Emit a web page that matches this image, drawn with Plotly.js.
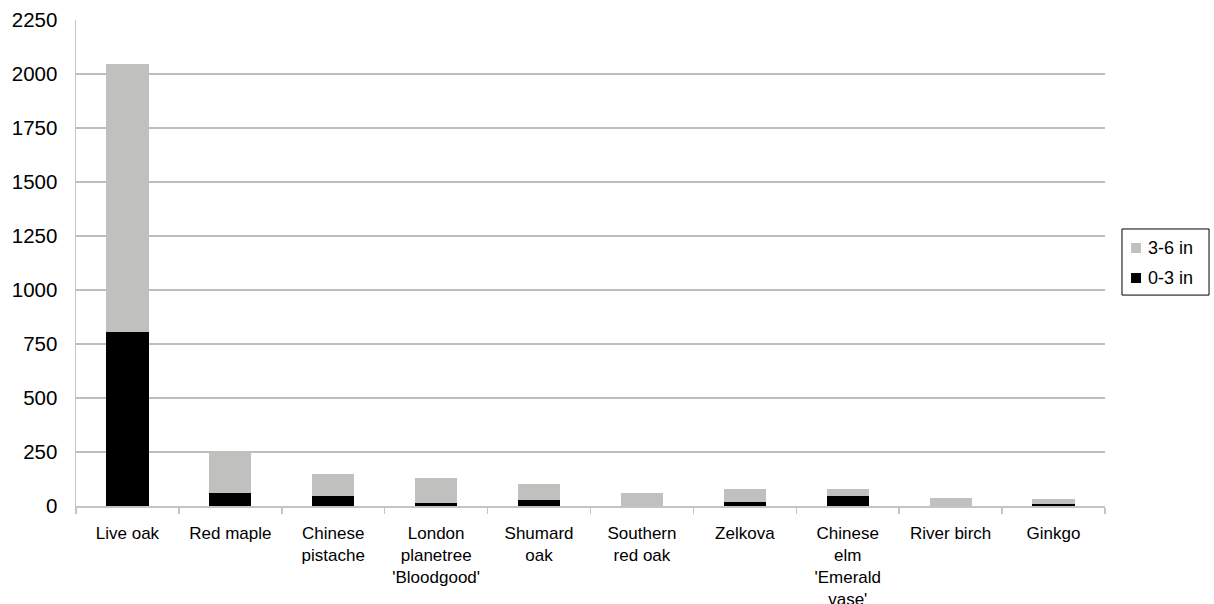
<!DOCTYPE html>
<html>
<head>
<meta charset="utf-8">
<script src="https://cdn.plot.ly/plotly-3.0.1.min.js"></script>
<style>
  html, body { margin: 0; padding: 0; background: #fff; }
  #chart { width: 1214px; height: 604px; }
</style>
</head>
<body>
<div id="chart"></div>
<script>
// Tree species (wrapped for the category axis)
const species = [
  "Live oak",
  "Red maple",
  "Chinese<br>pistache",
  "London<br>planetree<br>'Bloodgood'",
  "Shumard<br>oak",
  "Southern<br>red oak",
  "Zelkova",
  "Chinese<br>elm<br>'Emerald<br>vase'",
  "River birch",
  "Ginkgo"
];

// Counts by trunk diameter class
const small_0_3 = [805, 58, 45, 15, 30, 0, 20, 46, 2, 8];
const mid_3_6 = [1240, 192, 102, 113, 73, 62, 59, 33, 36, 26];

const seriesNames = ["0-3 in", "3-6 in"];
const seriesColors = ["#000000", "#c0c0bf"];

const yTicks = [0, 250, 500, 750, 1000, 1250, 1500, 1750, 2000, 2250];

const FONT = "Arial, 'Liberation Sans', Helvetica, sans-serif";

const traces = [
  {
    type: "bar",
    name: seriesNames[0],
    x: species,
    y: small_0_3,
    marker: { color: seriesColors[0], line: { width: 0 } },
    showlegend: false,
    hoverinfo: "x+y+name"
  },
  {
    type: "bar",
    name: seriesNames[1],
    x: species,
    y: mid_3_6,
    marker: { color: seriesColors[1], line: { width: 0 } },
    showlegend: false,
    hoverinfo: "x+y+name"
  }
];

// Legend box drawn in paper coordinates, to the right of the plot area
const legendBox = { x0: 1.0165, x1: 1.1011, y0: 0.434, y1: 0.570 };
const legendRows = [
  { idx: 1, y: 0.5309 },
  { idx: 0, y: 0.4691 }
];
const sq = { x0: 1.0253, x1: 1.0350, h: 0.0206 };

const shapes = [
  {
    type: "rect", xref: "paper", yref: "paper",
    x0: legendBox.x0, x1: legendBox.x1, y0: legendBox.y0, y1: legendBox.y1,
    line: { color: "#000", width: 1 }, fillcolor: "rgba(0,0,0,0)"
  }
];
const annotations = [];
legendRows.forEach(r => {
  shapes.push({
    type: "rect", xref: "paper", yref: "paper",
    x0: sq.x0, x1: sq.x1, y0: r.y - sq.h / 2, y1: r.y + sq.h / 2,
    line: { width: 0 }, fillcolor: seriesColors[r.idx]
  });
  annotations.push({
    xref: "paper", yref: "paper", x: 1.0395, y: r.y,
    xanchor: "left", yanchor: "middle", showarrow: false,
    text: seriesNames[r.idx],
    font: { family: FONT, size: 18, color: "#000" }
  });
});

const layout = {
  width: 1214,
  height: 604,
  margin: { l: 76, r: 109, t: 20, b: 98 },
  paper_bgcolor: "#fff",
  plot_bgcolor: "#fff",
  barmode: "stack",
  bargap: 0.59,
  showlegend: false,
  font: { family: FONT, color: "#000" },
  xaxis: {
    type: "category",
    showline: true,
    linecolor: "#c4c4c4",
    linewidth: 1.5,
    ticks: "outside",
    tickson: "boundaries",
    ticklen: 6,
    tickcolor: "#c4c4c4",
    tickwidth: 1.5,
    showgrid: false,
    tickangle: 0,
    ticklabelstandoff: 11,
    tickfont: { family: FONT, size: 17, color: "#000" },
    automargin: false
  },
  yaxis: {
    range: [0, 2250],
    tickvals: yTicks,
    ticktext: yTicks.map(String),
    showline: true,
    linecolor: "#c4c4c4",
    linewidth: 1.5,
    showgrid: true,
    gridcolor: "#bebebe",
    gridwidth: 1.5,
    zeroline: false,
    ticks: "",
    ticklabelstandoff: 13,
    tickfont: { family: FONT, size: 20.5, color: "#000" },
    automargin: false
  },
  shapes: shapes,
  annotations: annotations
};

Plotly.newPlot("chart", traces, layout, { displayModeBar: false, staticPlot: true });
</script>
</body>
</html>
